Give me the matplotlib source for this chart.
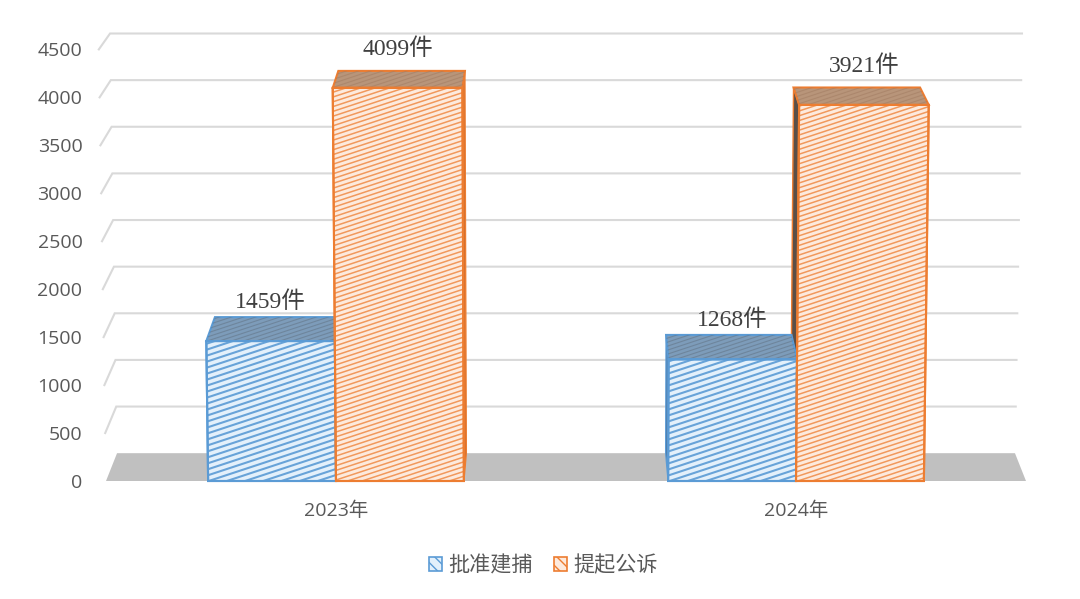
import numpy as np
import matplotlib
matplotlib.use("Agg")
import matplotlib.pyplot as plt
from matplotlib.collections import LineCollection
from matplotlib.patches import Patch, Polygon
from matplotlib.transforms import IdentityTransform

plt.rcParams['font.family'] = ['Open Sans', 'Noto Sans CJK SC', 'DejaVu Sans']
plt.rcParams['hatch.linewidth'] = 1.0

# data
years = ['2023年', '2024年']
series_names = ['批准建捕', '提起公诉']
arrests = [1459, 1268]
prosecutions = [4099, 3921]
y_ticks = [0, 500, 1000, 1500, 2000, 2500, 3000, 3500, 4000, 4500]

# styles
BAR_W = 0.278
EDGE = ['#5b9bd5', '#ed7d31']
FILL = ['#e3f0fb', '#fdeadd']
TOP = ['#7d9cba', '#b8957a']
SIDE = {0: ['#5b9bd5', '#cf6f2e'], 1: ['#4b6f96', '#5a4f48']}
STRIPE_STEP = [6.0, 4.8]
STRIPE_LW = [1.5, 1.1]
STRIPE_ALPHA = [0.9, 0.75]
GRID = '#d9d9d9'
TEXT = '#595959'
LABEL_FONT = ['Liberation Serif', 'Noto Sans CJK SC']

fig = plt.figure(figsize=(10.8, 5.99), dpi=100)
ax = fig.add_axes([106 / 1080, 1 - 481 / 599, 920 / 1080, 431.6 / 599])
ax.set_xlim(-0.5, 1.5)
ax.set_ylim(0, 4500)
for s in ax.spines.values():
    s.set_visible(False)


def project(x, v, back=False):
    # fake 3d: everything leans away from the middle of the chart
    vp = 0.5
    xf = vp + (x - vp) * (1 + 0.0156 * v / 4500)
    if not back:
        return xf, v
    return vp + (xf - vp) * (1 - 0.024), 290 + 0.9724 * v


def stripes(patch, color, step=7.0, slope=0.33, lw=1.3, alpha=1.0):
    # shallow hatching, drawn in pixels and clipped to the face
    pts = ax.transData.transform(patch.get_xy())
    x0, x1 = pts[:, 0].min(), pts[:, 0].max()
    y0, y1 = pts[:, 1].min(), pts[:, 1].max()
    segs = []
    for c in np.arange(y0 - slope * (x1 - x0), y1 + step, step):
        segs.append([(x0, c), (x1, c + slope * (x1 - x0))])
    lc = LineCollection(segs, colors=color, linewidths=lw, alpha=alpha,
                        transform=IdentityTransform(), zorder=patch.get_zorder() + 0.1)
    ax.add_collection(lc, autolim=False)
    lc.set_clip_path(patch)


def face(points, fill, edge, z, lw=1.5):
    p = Polygon(points, closed=True, facecolor=fill, edgecolor=edge, linewidth=lw,
                zorder=z, clip_on=False, joinstyle='miter')
    ax.add_patch(p)
    return p


# floor
face([project(-0.5, 0), project(1.5, 0), project(1.5, 0, True), project(-0.5, 0, True)],
     '#c0c0c0', 'none', 1, lw=0)

# side wall and back wall gridlines
for t in y_ticks[1:]:
    pts = [project(-0.5, t), project(-0.5, t, True), project(1.5, t, True)]
    ax.plot([p[0] for p in pts], [p[1] for p in pts], color=GRID, lw=1.5,
            zorder=1, clip_on=False, solid_joinstyle='miter')

# bars
for i, year in enumerate(years):
    for j, vals in enumerate([arrests, prosecutions]):
        v = vals[i]
        left = i - BAR_W + j * BAR_W
        right = left + BAR_W
        z = 3 + j + i
        # the side that can be seen depends on which side of the middle the bar is
        sx = right if i == 0 else left
        if j == 1 or i == 1:
            # in 2024 the orange side goes behind the blue bar
            face([project(sx, 0), project(sx, v), project(sx, v, True), project(sx, 0, True)],
                 SIDE[i][j], EDGE[j], z - 2 * i, lw=1.0)
        top = face([project(left, v), project(right, v), project(right, v, True), project(left, v, True)],
                   TOP[j], EDGE[j], z + 0.2)
        stripes(top, '#5f6f7f' if j == 0 else '#a07a60', step=4.0, lw=0.8, alpha=0.5)
        front = face([project(left, 0), project(right, 0), project(right, v), project(left, v)],
                     FILL[j], EDGE[j], z + 0.4, lw=1.5)
        stripes(front, EDGE[j], step=STRIPE_STEP[j], lw=STRIPE_LW[j], alpha=STRIPE_ALPHA[j])
        ax.add_patch(Polygon(front.get_xy(), closed=True, fill=False, edgecolor=EDGE[j],
                             linewidth=1.5, zorder=z + 0.6, clip_on=False))
        ax.annotate(f'{v}件', xy=project((left + right) / 2, v), xytext=(0, 28),
                    textcoords='offset points', ha='center', va='center', fontsize=17,
                    color='#404040', family=LABEL_FONT, zorder=10, annotation_clip=False)

ax.set_xticks([0, 1], years)
ax.set_yticks(y_ticks, [str(t) for t in y_ticks])
ax.tick_params(axis='both', length=0, labelsize=14, labelcolor=TEXT)
ax.tick_params(axis='y', pad=17)
ax.tick_params(axis='x', pad=15)

handles = [Patch(facecolor=FILL[k], edgecolor=EDGE[k], hatch='\\\\\\', linewidth=1.2) for k in range(2)]
fig.legend(handles, series_names, ncol=2, frameon=False, loc='center',
           bbox_to_anchor=(543 / 1080, 1 - 566 / 599), fontsize=15.2, labelcolor=TEXT,
           handlelength=0.62, handleheight=0.62, handletextpad=0.3, columnspacing=1.0)

fig.savefig('out.png', dpi=100)
